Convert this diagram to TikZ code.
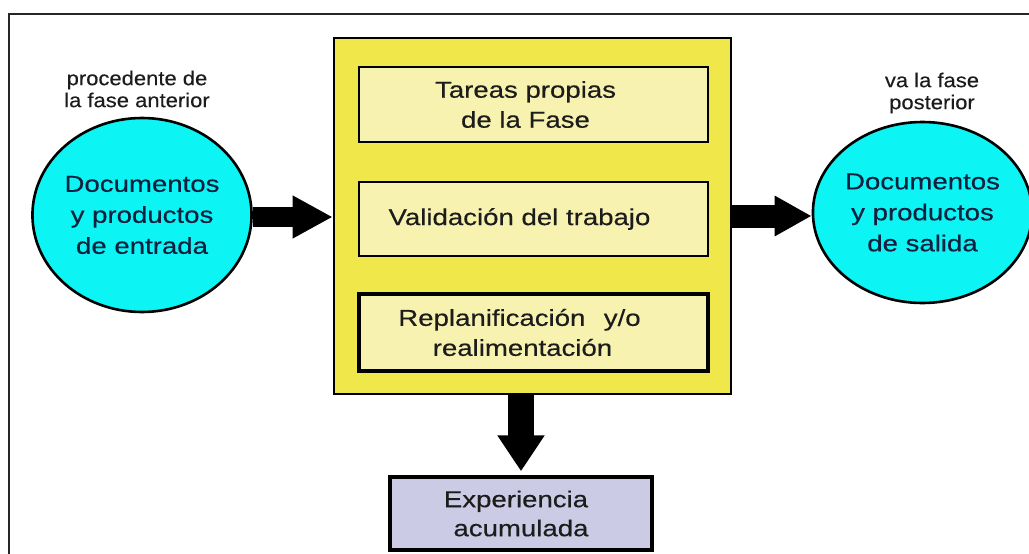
\documentclass[tikz,border=0pt]{standalone}
\usepackage{fontspec}
\setmainfont{Liberation Sans}
\newfontfamily\wfont[FakeStretch=1.2,FakeBold=0.4]{Liberation Sans}
\newfontfamily\lblfont[FakeStretch=1.1,FakeBold=0.2]{Liberation Sans}
\usetikzlibrary{shapes.geometric,arrows.meta}
\definecolor{cyanfill}{HTML}{0CF4F4}
\definecolor{mainyellow}{HTML}{F0E84A}
\definecolor{paleyellow}{HTML}{F8F2B0}
\definecolor{lavender}{HTML}{CBCBE6}
\definecolor{navytext}{HTML}{10203E}
\definecolor{darktext}{HTML}{1C1C1C}
\tikzset{
  doc/.style={ellipse, draw=black, line width=2.6pt, fill=cyanfill, inner sep=0pt,
    align=center, text=navytext, font=\wfont\fontsize{23}{31}\selectfont},
  lbl/.style={align=center, text=darktext, font=\lblfont\fontsize{20}{22}\selectfont, inner sep=0pt},
  phase/.style={rectangle, draw=black, line width=2.6pt, fill=mainyellow, inner sep=0pt},
  task/.style={rectangle, draw=black, line width=2.2pt, fill=paleyellow, inner sep=0pt,
    align=center, text=darktext, font=\wfont\fontsize{23}{30}\selectfont},
  expbox/.style={rectangle, draw=black, line width=3.5pt, fill=lavender, inner sep=0pt,
    align=center, text=darktext, font=\wfont\fontsize{23}{29}\selectfont},
  fat/.style={line width=#1, draw=black}
}
\begin{document}
\begin{tikzpicture}[x=1pt,y=-1pt]
\useasboundingbox (0,0) rectangle (1029,554);
% outer frame
\draw[line width=2pt, draw=black!85] (1029,14) -- (9,14) -- (9,554);

% main phase box
\node[phase, minimum width=397pt, minimum height=356pt] (main) at (532.5,216) {};
\node[task, minimum width=349pt, minimum height=75pt] (t1) at (533.5,104.5) {\hspace*{-16pt}Tareas propias\\\hspace*{-16pt}de la Fase};
\node[task, minimum width=349pt, minimum height=74pt] (t2) at (533.5,219) {\hspace*{-28pt}Validación del trabajo};
\node[task, line width=3.2pt, minimum width=349pt, minimum height=77pt] (t3) at (533.5,332.5) {\hspace*{-28pt}Replanificación\hspace{0.8em}y/o\\\hspace*{-22pt}realimentación};

% documents
\node[doc, minimum width=212pt, minimum height=194pt] (in) at (142,215) {Documentos\\y productos\\de entrada};
\node[doc, minimum width=211pt, minimum height=181pt] (out) at (922.5,212.5) {Documentos\\y productos\\de salida};

\node[lbl] (lin) at (137,89) {procedente de\\la fase anterior};
\node[lbl] (lout) at (932,93) {va la fase\\posterior};

% experience
\node[expbox, minimum width=262pt, minimum height=73pt] (exp) at (521,513.5) {\hspace*{-10pt}Experiencia\\acumulada};

% arrows
\draw[fat=20pt, -{Triangle[width=40pt,length=40pt]}] ([yshift=-2pt]in.east) -- ([yshift=-2pt]in.east -| main.west);
\draw[fat=23pt, -{Triangle[width=38pt,length=37pt]}] (main.east) -- (main.east -| out.west);
\draw[fat=26pt, -{Triangle[width=45pt,length=36pt]}] (main.south -| exp.north) -- ([yshift=4pt]exp.north);
\end{tikzpicture}
\end{document}
